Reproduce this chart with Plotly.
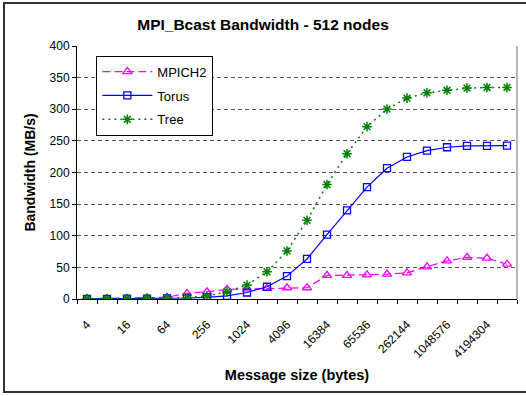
import math
import plotly.graph_objects as go

# Message sizes in bytes (powers of two, 4 B .. 8 MB)
sizes = [4, 8, 16, 32, 64, 128, 256, 512, 1024, 2048, 4096, 8192, 16384,
         32768, 65536, 131072, 262144, 524288, 1048576, 2097152, 4194304, 8388608]

# Bandwidth in MB/s
mpich2 = [0.5, 0.8, 1.0, 1.5, 2.7, 9.0, 11.5, 15.3, 16.0, 16.8, 17.8, 17.8,
          37.3, 37.3, 38.3, 39.4, 41.4, 50.9, 60.3, 65.7, 64.6, 55.0]
torus = [0.2, 0.3, 0.5, 0.6, 1.0, 1.6, 2.6, 5.0, 10.3, 19.4, 36.2, 63.3,
         101.9, 140.0, 176.9, 206.8, 224.6, 234.6, 239.9, 242.0, 242.0, 242.5]
tree = [0.2, 0.3, 0.5, 1.0, 1.5, 2.0, 5.0, 11.5, 22.0, 43.0, 76.0, 124.4,
        181.0, 229.7, 272.5, 300.3, 317.6, 326.0, 330.0, 333.4, 334.4, 334.4]

label_sizes = sizes[::2]

half = math.sqrt(2)
x_lo = math.log10(sizes[0] / half)
x_hi = math.log10(sizes[-1] * half)
boundaries = [sizes[0] / half] + [s * half for s in sizes]

FAMILY = "Liberation Sans, Arial, sans-serif"

fig = go.Figure()
fig.add_trace(go.Scatter(
    x=sizes, y=mpich2, name="MPICH2", mode="lines+markers", legendgroup="a",
    line=dict(color="#FF00FF", width=1.2, dash="8px,4px"),
    marker=dict(symbol="triangle-up-open", size=8, color="#FF00FF",
                line=dict(width=1.3, color="#FF00FF")),
))
fig.add_trace(go.Scatter(
    x=sizes, y=torus, name="Torus", mode="lines+markers", legendgroup="b",
    line=dict(color="#0000FF", width=1.2),
    marker=dict(symbol="square-open", size=7, color="#0000FF",
                line=dict(width=1.3, color="#0000FF")),
))
fig.add_trace(go.Scatter(
    x=sizes, y=tree, name="Tree", mode="lines+markers", legendgroup="c",
    line=dict(color="#008000", width=1.5, dash="2px,4px"),
    marker=dict(symbol="asterisk-open", size=8, color="#008000",
                line=dict(width=1.5, color="#008000")),
))

tick_font = dict(family=FAMILY, size=12, color="#000000")
title_font = dict(family=FAMILY, size=14.5, color="#000000")

fig.update_layout(
    width=526, height=396,
    margin=dict(l=77, r=9, t=46, b=97),
    paper_bgcolor="white", plot_bgcolor="white",
    font=tick_font,
    title=dict(text="<b>MPI_Bcast Bandwidth - 512 nodes</b>",
               x=0.5, xanchor="center", xref="container", y=1 - 25 / 396, yanchor="middle",
               font=dict(family=FAMILY, size=15.5, color="#000000")),
    xaxis=dict(
        type="log", range=[x_lo, x_hi],
        tickmode="array", tickvals=label_sizes, ticktext=[str(s) for s in label_sizes],
        tickangle=-45, ticks="", ticklabelstandoff=13, tickfont=tick_font,
        showgrid=False, zeroline=False,
        showline=True, linecolor="black", linewidth=1,
        minor=dict(tickmode="array", tickvals=boundaries, ticks="outside",
                   ticklen=4, tickcolor="black", tickwidth=1, showgrid=False),
        title=dict(text="<b>Message size (bytes)</b>", font=title_font, standoff=10),
    ),
    yaxis=dict(
        range=[0, 400], tickmode="linear", tick0=0, dtick=50,
        ticks="outside", ticklen=4, tickcolor="black", tickfont=tick_font,
        showline=True, linecolor="black", linewidth=1,
        showgrid=True, gridcolor="#555555", gridwidth=1, griddash="4px,3px",
        zeroline=False,
        title=dict(text="<b>Bandwidth (MB/s)</b>", font=dict(family=FAMILY, size=14, color="#000000"),
                   standoff=10),
    ),
    legend=dict(
        x=0.044, y=0.962, xanchor="left", yanchor="top",
        bgcolor="white", bordercolor="black", borderwidth=1,
        font=dict(family=FAMILY, size=13, color="#000000"),
        itemwidth=50, tracegroupgap=4,
    ),
    shapes=[
        # right edge of the plotting area
        dict(type="line", xref="paper", yref="paper", x0=1, x1=1, y0=0, y1=1,
             line=dict(color="#A0A0A0", width=1.5)),
        # outer chart frame
        dict(type="rect", xref="paper", yref="paper",
             x0=-73 / 440, x1=1 + 40 / 440, y0=-93 / 253, y1=1 + 43 / 253,
             line=dict(color="#333333", width=2), layer="above"),
    ],
)

fig.write_html("out.html")
